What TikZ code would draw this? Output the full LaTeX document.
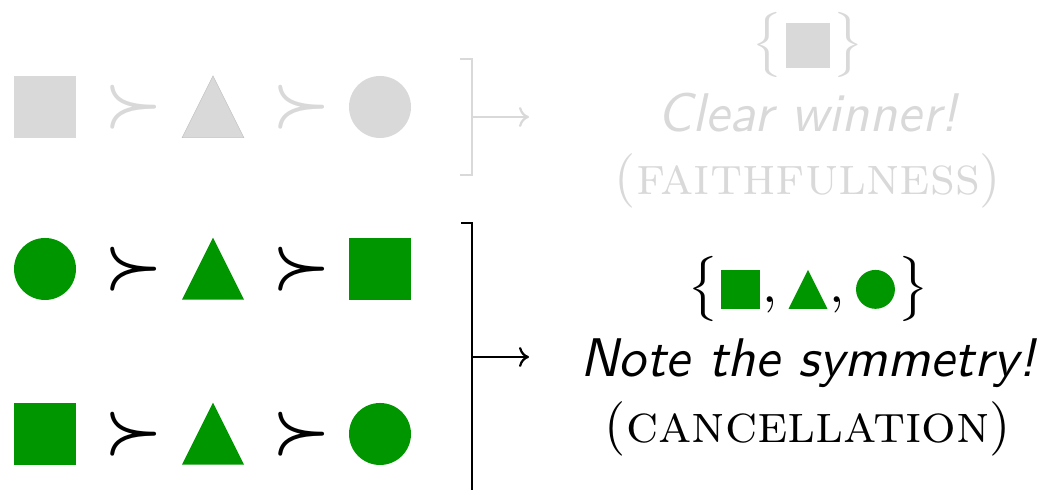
\documentclass[tikz,border=0pt]{standalone}
\usetikzlibrary{shapes, positioning, arrows.meta, calc}
\colorlet{faded}{black!15}
\definecolor{good}{RGB}{0,150,0}
\tikzstyle{sq}=[rectangle, minimum size=27.9pt, inner sep=0pt]
\tikzstyle{tri}=[isosceles triangle, isosceles triangle stretches, shape border rotate=90,
  minimum width=27.9pt, minimum height=27.9pt, inner sep=0pt, anchor=south]
\tikzstyle{circ}=[circle, minimum size=27.9pt, inner sep=0pt]
\tikzstyle{pref}=[inner sep=0pt, scale=2.45, font=\large\boldmath]
\tikzstyle{txt}=[inner sep=0pt, anchor=base, scale=2.45]
\tikzstyle{note}=[txt, font=\sffamily\itshape]
\tikzstyle{bracket}=[line width=1pt]
\tikzstyle{arrow}=[-{Computer Modern Rightarrow[length=4.5pt, width=9pt]}, line width=1pt]
% small shapes inside the braces
\newcommand{\setsq}[2]{\vcenter{\hbox{\kern.4pt\tikz[reset cm]\fill[#1] (0,0) rectangle (#2,#2);\kern.4pt}}}
\newcommand{\settri}[2]{\vcenter{\hbox{\kern.4pt\tikz[reset cm]\fill[#1] (0,0) -- (#2,0) -- (#2/2,#2) -- cycle;\kern.4pt}}}
\newcommand{\setcirc}[2]{\vcenter{\hbox{\kern.4pt\tikz[reset cm]\fill[#1] (0,0) circle ({#2/2});\kern.4pt}}}

\begin{document}
\begin{tikzpicture}[x=0.45pt, y=0.45pt]
  \useasboundingbox (0,0) rectangle (1047,490);
  % faded row
  \node (fSq) [sq, fill=faded] at (45,383) {};
  \node (fPrefA) [pref, text=faded] at (134,383) {$\succ$};
  \node (fTri) [tri, fill=faded, draw=black!25, line width=0.2pt] at (213,352) {};
  \node (fPrefB) [pref, text=faded] at (302,383) {$\succ$};
  \node (fCirc) [circ, fill=faded] at (380,383) {};
  \coordinate (fBrk) at (472,373);
  \coordinate (fEnd) at (529,373);
  \draw [bracket, draw=faded] ($(fBrk)+(-12,58)$) -| ($(fBrk)+(0,-58)$) -- ++(-12,0);
  \draw [arrow, draw=faded] (fBrk) -- (fEnd);
  \node (fSet) [txt, text=faded] at (808,431) {$\bigl\{\setsq{faded}{8.2pt}\bigr\}$};
  \node (fLabel) [note, text=faded] at (808,358) {Clear winner!};
  \node (fName) [txt, text=faded] at (808,295) {(\textsc{faithfulness})};
  % two symmetric rows
  \node (aCirc) [circ, fill=good] at (45,221) {};
  \node (aPrefA) [pref] at (134,221) {$\succ$};
  \node (aTri) [tri, fill=good] at (213,190) {};
  \node (aPrefB) [pref] at (302,221) {$\succ$};
  \node (aSq) [sq, fill=good] at (380,221) {};
  \node (bSq) [sq, fill=good] at (45,56) {};
  \node (bPrefA) [pref] at (134,56) {$\succ$};
  \node (bTri) [tri, fill=good] at (213,25) {};
  \node (bPrefB) [pref] at (302,56) {$\succ$};
  \node (bCirc) [circ, fill=good] at (380,56) {};
  \coordinate (gBrk) at (472,133);
  \coordinate (gEnd) at (529,133);
  \draw [bracket] ($(gBrk)+(-11,134)$) -| ($(gBrk)+(0,-136)$) -- ++(-11,0);
  \draw [arrow] (gBrk) -- (gEnd);
  \node (gSet) [txt] at (808,187)
    {$\bigl\{\setsq{good}{7.15pt},\settri{good}{7.15pt},\setcirc{good}{7.15pt}\bigr\}$};
  \node (gLabel) [note] at (808,113) {Note the symmetry!};
  \node (gName) [txt] at (808,47) {(\textsc{cancellation})};
\end{tikzpicture}
\end{document}
